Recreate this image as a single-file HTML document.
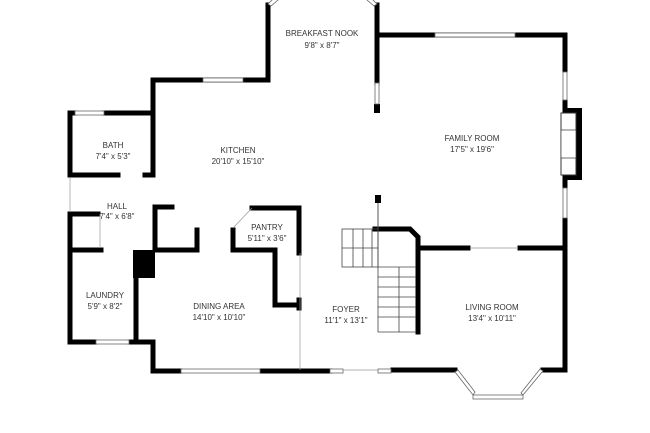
<!DOCTYPE html>
<html><head><style>
html,body{margin:0;padding:0;background:#fff;}
svg{display:block;}
text{font-family:"Liberation Sans",sans-serif;font-size:8px;fill:#333;text-anchor:middle;}
</style></head><body>
<svg width="650" height="433" viewBox="0 0 650 433">
<g fill="none" stroke="#000" stroke-width="5" stroke-linecap="square">
<polyline points="268,5 268,80 153,80 153,175"/>
<polyline points="377,5 377,83"/>
<rect x="374" y="104" width="6" height="9" fill="#000" stroke="none"/>
<polyline points="377,35 565,35 565,70"/>
<line x1="565" y1="102" x2="565" y2="110"/>
<line x1="565" y1="178" x2="565" y2="186"/>
<polyline points="565,220 565,370 543,370"/>
<polyline points="70,113 70,175 118,175"/>
<line x1="70" y1="113" x2="74" y2="113"/>
<line x1="104" y1="113" x2="152" y2="113"/>
<line x1="145" y1="175" x2="152" y2="175"/>
<polyline points="98,214 70,214 70,342 95,342"/>
<line x1="70" y1="250" x2="101" y2="250"/>
<line x1="130" y1="342" x2="153" y2="342"/>
<polyline points="153,342 153,371 180,371"/>
<line x1="136" y1="278" x2="136" y2="340"/>
<polyline points="172,207 155,207 155,250 197,250 197,230"/>
<polyline points="233,230 233,250 275,250 275,305 298,305"/>
<polyline points="252,208 299,208 299,253"/>
<line x1="299" y1="300" x2="299" y2="308"/>
<line x1="262" y1="371" x2="330" y2="371"/>
<line x1="393" y1="370" x2="455" y2="370"/>
<polyline points="375,229 410,229 418,237 418,332"/>
<line x1="422" y1="248" x2="468" y2="248"/>
<line x1="520" y1="248" x2="565" y2="248"/>
</g>
<rect x="133" y="250" width="22" height="28" fill="#000"/>
<rect x="375" y="195" width="6" height="8" fill="#000"/>
<line x1="378" y1="203" x2="378" y2="229" stroke="#555" stroke-width="1"/>
<rect x="565" y="108" width="17" height="72" fill="#000"/>
<rect x="561" y="113" width="15" height="62" fill="#fff" stroke="#333" stroke-width="1"/>
<rect x="561" y="130" width="15" height="28" fill="#fff" stroke="#333" stroke-width="0.7"/>
<g fill="#fff" stroke="#666" stroke-width="0.8">
<rect x="203" y="78" width="40" height="4"/>
<rect x="75" y="111" width="29" height="4"/>
<rect x="96" y="340" width="33" height="4"/>
<rect x="181" y="369" width="79" height="4"/>
<rect x="330" y="369" width="13" height="4"/>
<rect x="378" y="369" width="13" height="4"/>
<rect x="435" y="33" width="80" height="4"/>
<rect x="375" y="83" width="4" height="21"/>
<rect x="563" y="72" width="4" height="28"/>
<rect x="563" y="188" width="4" height="30"/>
<polygon points="455,372 473,395 475,392 458,370"/>
<rect x="473" y="395" width="50" height="4"/>
<polygon points="523,395 543,371 540,369 521,393"/>
<polygon points="268,4 275,-3 278,0 271,6"/>
<polygon points="377,4 370,-3 367,0 374,6"/>
</g>
<g stroke="#999" stroke-width="0.7" fill="none">
<line x1="233" y1="228" x2="252" y2="208"/>
<line x1="300" y1="253" x2="300" y2="370"/>
<line x1="70" y1="178" x2="70" y2="212"/>
<line x1="100" y1="214" x2="100" y2="248"/>
<line x1="343" y1="370" x2="378" y2="370"/>
<line x1="470" y1="248" x2="518" y2="248"/>
</g>
<g stroke="#444" stroke-width="0.8" fill="none">
<rect x="342" y="229" width="36" height="38"/>
<line x1="353" y1="229" x2="353" y2="267"/>
<line x1="363" y1="229" x2="363" y2="267"/>
<line x1="372" y1="229" x2="372" y2="267"/>
<line x1="342" y1="248" x2="378" y2="248"/>
<polyline points="378,229 378,332 416,332"/>
<line x1="378" y1="267" x2="416" y2="267"/>
<line x1="378" y1="277" x2="416" y2="277"/>
<line x1="378" y1="287" x2="416" y2="287"/>
<line x1="378" y1="297" x2="416" y2="297"/>
<line x1="378" y1="307" x2="416" y2="307"/>
<line x1="378" y1="317" x2="416" y2="317"/>
<line x1="399" y1="267" x2="399" y2="332"/>
</g>
<text x="322" y="36">BREAKFAST NOOK</text><text x="322" y="48">9'8" x 8'7"</text>
<text x="238" y="153">KITCHEN</text><text x="238" y="164">20'10" x 15'10"</text>
<text x="113" y="148">BATH</text><text x="113" y="159">7'4" x 5'3"</text>
<text x="117" y="209">HALL</text><text x="117" y="219">7'4" x 6'8"</text>
<text x="267" y="230">PANTRY</text><text x="267" y="241">5'11" x 3'6"</text>
<text x="105" y="298">LAUNDRY</text><text x="105" y="309">5'9" x 8'2"</text>
<text x="219" y="309">DINING AREA</text><text x="219" y="320">14'10" x 10'10"</text>
<text x="346" y="312">FOYER</text><text x="346" y="323">11'1" x 13'1"</text>
<text x="472" y="141">FAMILY ROOM</text><text x="472" y="152">17'5" x 19'6"</text>
<text x="492" y="310">LIVING ROOM</text><text x="492" y="321">13'4" x 10'11"</text>
</svg>
</body></html>
